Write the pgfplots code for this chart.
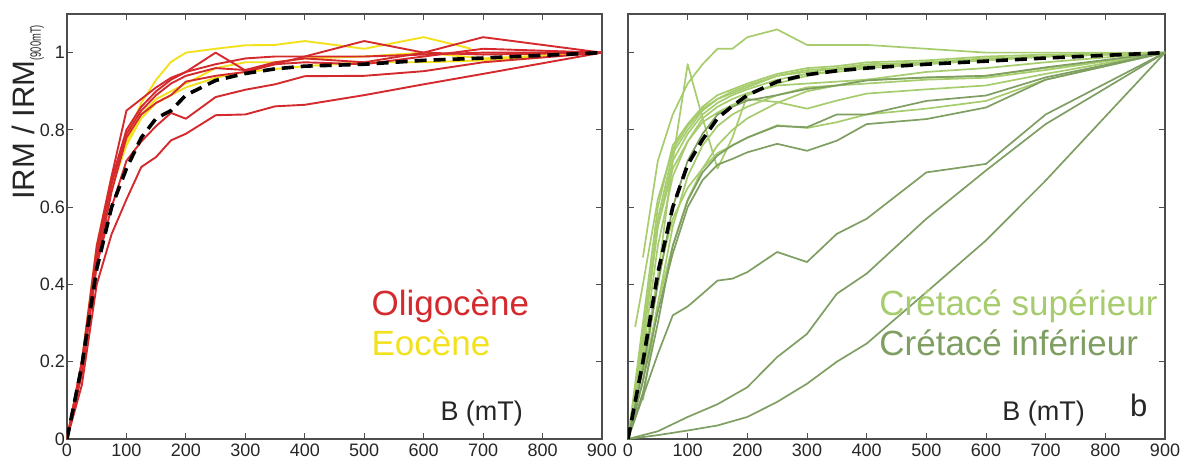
\documentclass[border=0pt]{standalone}
\usepackage{fontspec}
\setmainfont{Liberation Sans}
\usepackage{graphicx}
\usepackage{pgfplots}
\pgfplotsset{compat=1.18}
\definecolor{oli}{HTML}{D42A2E}
\definecolor{eoc}{HTML}{F3E11E}
\definecolor{sup}{HTML}{A6CC6E}
\definecolor{inf}{HTML}{7E9E62}
\definecolor{axc}{HTML}{4D4D4D}
\pgfplotsset{
 irm/.style={
  scale only axis, height=425pt,
  xmin=0,xmax=900,ymin=0,ymax=1.1,
  xtick={0,100,...,900}, ytick={0,0.2,0.4,0.6,0.8,1},
  tick align=inside, tick pos=both, major tick length=6pt,
  axis line style={axc, line width=1.3pt},
  every tick/.style={axc, line width=1pt},
  /pgf/number format/assume math mode=true,
  tick label style={font=\fontsize{18}{18}\selectfont, text=black!85},
  xticklabel style={inner sep=0pt, anchor=north, yshift=-5pt},
  yticklabel style={inner sep=0pt, anchor=east, xshift=-2pt},
 },
 oliS/.style={draw=oli, line width=1.9pt, line join=round},
 eocS/.style={draw=eoc, line width=1.9pt, line join=round},
 supS/.style={draw=sup, line width=1.7pt, line join=round},
 infS/.style={draw=inf, line width=1.7pt, line join=round},
 meanS/.style={draw=black, line width=3.6pt, dash pattern=on 12pt off 7pt},
}
\begin{document}
\begin{tikzpicture}
\path[use as bounding box] (-67pt,-17pt) rectangle (1117pt,439pt);
% ---------------- left panel ----------------
\begin{axis}[irm, width=535pt, at={(0pt,0pt)}, anchor=south west]
% Eocene
\addplot[eocS] coordinates {(0,0)(25,0.2)(50,0.5)(75,0.68)(100,0.78)(125,0.87)(150,0.93)(175,0.976)(200,1.0)(250,1.01)(300,1.019)(350,1.02)(400,1.03)(500,1.01)(600,1.04)(680,1.01)};
\addplot[eocS] coordinates {(0,0)(25,0.19)(50,0.48)(75,0.66)(100,0.77)(125,0.84)(150,0.88)(175,0.9)(200,0.92)(250,0.96)(300,0.975)(350,0.975)(400,0.985)(500,0.99)(600,1.0)(700,0.985)(900,1)};
\addplot[eocS] coordinates {(0,0)(25,0.18)(50,0.47)(75,0.65)(100,0.76)(125,0.83)(150,0.87)(175,0.89)(200,0.91)(250,0.935)(300,0.95)(400,0.965)(500,0.975)(600,0.975)(700,0.98)(900,1)};
% Oligocene
\addplot[oliS] coordinates {(0,0)(25,0.14)(50,0.4)(75,0.53)(100,0.62)(125,0.704)(150,0.73)(175,0.773)(200,0.79)(250,0.838)(300,0.84)(350,0.861)(400,0.865)(500,0.89)(600,0.918)(700,0.945)(900,1)};
\addplot[oliS] coordinates {(0,0)(25,0.17)(50,0.45)(75,0.6)(100,0.72)(125,0.77)(150,0.81)(175,0.844)(200,0.829)(250,0.885)(300,0.904)(350,0.918)(400,0.939)(500,0.94)(600,0.952)(700,0.975)(900,1)};
\addplot[oliS] coordinates {(0,0)(25,0.2)(50,0.5)(75,0.68)(100,0.85)(125,0.88)(150,0.91)(175,0.935)(200,0.95)(250,1.0)(300,0.954)(350,0.97)(400,0.99)(500,1.03)(600,1.0)(700,1.04)(900,1)};
\addplot[oliS] coordinates {(0,0)(25,0.18)(50,0.48)(75,0.67)(100,0.8)(125,0.86)(150,0.9)(175,0.93)(200,0.95)(250,0.97)(300,0.985)(350,0.99)(400,0.99)(500,0.99)(600,0.995)(700,1.0)(900,1)};
\addplot[oliS] coordinates {(0,0)(25,0.17)(50,0.45)(75,0.64)(100,0.78)(125,0.84)(150,0.87)(175,0.89)(200,0.925)(250,0.94)(300,0.95)(350,0.97)(400,0.975)(500,0.97)(600,0.99)(700,1.01)(900,1)};
\addplot[oliS] coordinates {(0,0)(25,0.2)(50,0.47)(75,0.66)(100,0.79)(125,0.85)(150,0.89)(175,0.92)(200,0.94)(250,0.96)(300,0.955)(350,0.975)(400,0.985)(500,0.975)(600,1.0)(700,0.995)(900,1)};
% mean
\addplot[meanS] coordinates {(0,0)(25,0.19)(50,0.44)(75,0.6)(100,0.7)(125,0.78)(150,0.83)(175,0.85)(200,0.89)(250,0.928)(300,0.946)(350,0.958)(400,0.965)(500,0.97)(600,0.98)(700,0.986)(800,0.993)(900,1)};
\node[anchor=base west, inner sep=0pt, text=oli, font=\fontsize{35}{35}\selectfont] at (axis cs:512,0.32) {Oligocène};
\node[anchor=base west, inner sep=0pt, text=eoc, font=\fontsize{35}{35}\selectfont] at (axis cs:512,0.216) {Eocène};
\node[anchor=base west, inner sep=0pt, text=black!85, font=\fontsize{27}{27}\selectfont] at (axis cs:628,0.047) {B (mT)};
\end{axis}
\node[rotate=90, anchor=base west, inner sep=0pt, text=black!85, font=\fontsize{31}{31}\selectfont] at (-32pt,239pt) {IRM / IRM\raisebox{-6pt}{\scalebox{0.62}[1]{\fontsize{15}{15}\selectfont (900mT)}}};
% ---------------- right panel ----------------
\begin{axis}[irm, width=537pt, at={(561pt,0pt)}, anchor=south west, yticklabels={}]
% Cretace superieur
\addplot[supS] coordinates {(25,0.47)(50,0.72)(75,0.84)(100,0.92)(125,0.97)(150,1.01)(175,1.01)(200,1.04)(250,1.06)(300,1.02)(400,1.02)(500,1.01)(600,1.0)(700,1.0)(900,1)};
\addplot[supS] coordinates {(0,0)(25,0.15)(50,0.42)(75,0.72)(100,0.97)(125,0.83)(150,0.7)(175,0.78)(200,0.89)(250,0.92)(300,0.94)(350,0.955)(400,0.965)(500,0.975)(600,0.985)(700,0.99)(900,1)};
\addplot[supS] coordinates {(0,0)(25,0.25)(50,0.55)(75,0.7)(100,0.77)(125,0.82)(150,0.845)(175,0.865)(200,0.88)(250,0.872)(300,0.855)(350,0.876)(400,0.894)(500,0.905)(600,0.915)(700,0.945)(900,1)};
\addplot[supS] coordinates {(0,0)(25,0.2)(50,0.42)(75,0.57)(100,0.65)(125,0.7)(150,0.74)(175,0.76)(200,0.78)(250,0.812)(300,0.805)(350,0.82)(400,0.84)(500,0.855)(600,0.875)(700,0.93)(900,1)};
\addplot[supS] coordinates {(0,0)(25,0.3)(50,0.6)(75,0.76)(100,0.815)(125,0.86)(150,0.89)(175,0.905)(200,0.92)(250,0.945)(300,0.96)(350,0.965)(400,0.975)(500,0.98)(600,0.99)(700,0.995)(900,1)};
\addplot[supS] coordinates {(0,0)(25,0.27)(50,0.57)(75,0.74)(100,0.8)(125,0.85)(150,0.88)(175,0.895)(200,0.91)(250,0.94)(300,0.955)(350,0.96)(400,0.97)(500,0.975)(600,0.985)(700,0.99)(900,1)};
\addplot[supS] coordinates {(0,0)(25,0.25)(50,0.55)(75,0.72)(100,0.79)(125,0.84)(150,0.87)(175,0.89)(200,0.905)(250,0.93)(300,0.945)(350,0.95)(400,0.96)(500,0.97)(600,0.98)(700,0.99)(900,1)};
\addplot[supS] coordinates {(0,0)(25,0.22)(50,0.5)(75,0.68)(100,0.77)(125,0.83)(150,0.86)(175,0.88)(200,0.895)(250,0.915)(300,0.92)(350,0.925)(400,0.93)(500,0.935)(600,0.94)(700,0.96)(900,1)};
\addplot[supS] coordinates {(25,0.1)(50,0.35)(75,0.55)(100,0.68)(125,0.76)(150,0.81)(175,0.84)(200,0.86)(250,0.89)(300,0.91)(350,0.915)(400,0.92)(500,0.93)(600,0.935)(700,0.955)(900,1)};
\addplot[supS] coordinates {(12,0.29)(25,0.4)(50,0.62)(75,0.75)(100,0.81)(125,0.855)(150,0.88)(175,0.9)(200,0.915)(250,0.94)(300,0.95)(400,0.965)(500,0.975)(600,0.98)(700,0.99)(900,1)};
\addplot[supS] coordinates {(0,0)(25,0.15)(50,0.35)(75,0.5)(100,0.62)(125,0.7)(150,0.76)(175,0.8)(200,0.83)(250,0.87)(300,0.9)(350,0.915)(400,0.93)(500,0.95)(600,0.96)(700,0.975)(900,1)};
% Cretace inferieur
\addplot[infS] coordinates {(0,0)(25,0.11)(50,0.22)(75,0.32)(100,0.343)(125,0.376)(150,0.41)(175,0.415)(200,0.432)(250,0.484)(300,0.458)(350,0.531)(400,0.57)(500,0.69)(600,0.712)(700,0.84)(900,1)};
\addplot[infS] coordinates {(0,0)(50,0.02)(100,0.057)(150,0.09)(200,0.134)(250,0.212)(300,0.272)(350,0.376)(400,0.428)(500,0.57)(600,0.695)(700,0.815)(900,1)};
\addplot[infS] coordinates {(0,0)(50,0.01)(100,0.022)(150,0.035)(200,0.057)(250,0.096)(300,0.143)(350,0.2)(400,0.247)(500,0.38)(600,0.514)(700,0.669)(900,1)};
\addplot[infS] coordinates {(0,0)(25,0.15)(50,0.33)(75,0.48)(100,0.6)(125,0.67)(150,0.71)(175,0.725)(200,0.742)(250,0.764)(300,0.746)(350,0.772)(400,0.815)(500,0.828)(600,0.858)(700,0.93)(900,1)};
\addplot[infS] coordinates {(0,0)(25,0.12)(50,0.3)(75,0.5)(100,0.617)(125,0.69)(150,0.734)(175,0.76)(200,0.78)(250,0.81)(300,0.807)(350,0.84)(400,0.84)(500,0.875)(600,0.889)(700,0.936)(900,1)};
\addplot[infS] coordinates {(0,0)(25,0.18)(50,0.4)(75,0.6)(100,0.72)(125,0.79)(150,0.84)(175,0.86)(200,0.876)(250,0.89)(300,0.906)(350,0.915)(400,0.928)(500,0.936)(600,0.94)(700,0.962)(900,1)};
% mean
\addplot[meanS] coordinates {(0,0)(25,0.2)(50,0.43)(75,0.6)(100,0.71)(125,0.775)(150,0.83)(175,0.862)(200,0.89)(250,0.925)(300,0.943)(350,0.953)(400,0.96)(500,0.97)(600,0.978)(700,0.986)(800,0.993)(900,1)};
\node[anchor=base west, inner sep=0pt, text=sup, font=\fontsize{35}{35}\selectfont] at (axis cs:421,0.32) {Crétacé supérieur};
\node[anchor=base west, inner sep=0pt, text=inf, font=\fontsize{35}{35}\selectfont] at (axis cs:421,0.216) {Crétacé inférieur};
\node[anchor=base west, inner sep=0pt, text=black!85, font=\fontsize{27}{27}\selectfont] at (axis cs:627,0.047) {B (mT)};
\node[anchor=base west, inner sep=0pt, text=black!85, font=\fontsize{31}{31}\selectfont] at (axis cs:841,0.057) {b};
\end{axis}
\end{tikzpicture}
\end{document}
